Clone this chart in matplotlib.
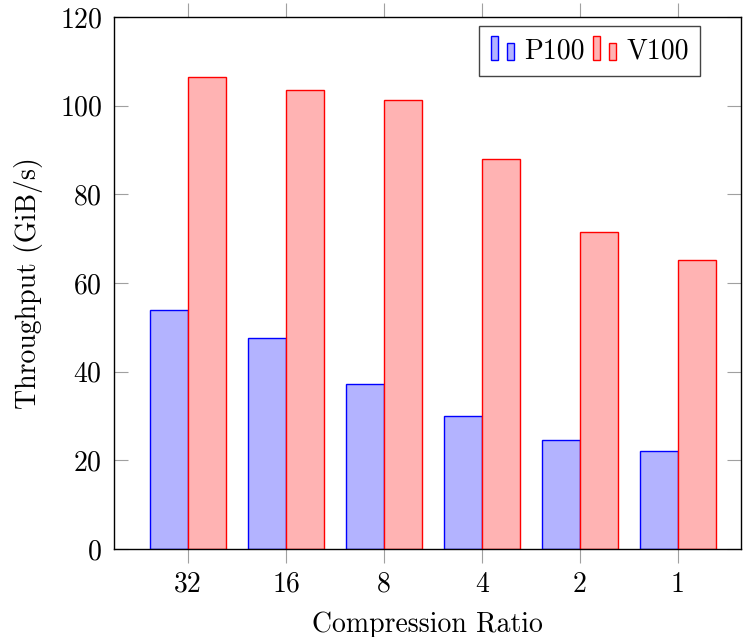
import matplotlib
matplotlib.use("Agg")
import matplotlib.pyplot as plt
from matplotlib.patches import Rectangle
from matplotlib.legend_handler import HandlerBase
import numpy as np

plt.rcParams['font.family'] = ['cmr10', 'DejaVu Serif']
plt.rcParams['axes.formatter.use_mathtext'] = True

ratios = ['32', '16', '8', '4', '2', '1']
p100 = [54.0, 47.7, 37.2, 30.1, 24.6, 22.2]
v100 = [106.4, 103.5, 101.2, 88.0, 71.4, 65.2]

blue_fill, red_fill = '#b3b3ff', '#ffb3b3'


class TwoBars(HandlerBase):
    # pgfplots style ybar legend image: two little bars
    def create_artists(self, legend, orig, xd, yd, w, h, fs, trans):
        p = orig.patches[0]
        fc = p.get_facecolor()
        ec = p.get_edgecolor()
        bw = w * 0.3
        r1 = Rectangle((xd, yd - h * 0.1), bw, h * 1.25, fc=fc, ec=ec, lw=1, transform=trans)
        r2 = Rectangle((xd + w * 0.65, yd - h * 0.1), bw, h * 0.85, fc=fc, ec=ec, lw=1, transform=trans)
        return [r1, r2]


fig = plt.figure(figsize=(7.43, 6.37), dpi=100)
ax = fig.add_axes([0.1534, 0.1381, 0.8439, 0.8352])

x = np.arange(len(ratios))
w = 0.39
b1 = ax.bar(x - w / 2, p100, w, color=blue_fill, edgecolor='blue', linewidth=1, label='P100')
b2 = ax.bar(x + w / 2, v100, w, color=red_fill, edgecolor='red', linewidth=1, label='V100')

ax.set_xlim(-0.755, 5.643)
ax.set_ylim(0, 120)
ax.set_xticks(x)
ax.set_xticklabels(ratios)
ax.set_yticks(range(0, 121, 20))
ax.tick_params(axis='x', direction='out', top=True, length=10, color='#a0a0a0', labelsize=20, pad=6)
ax.tick_params(axis='y', direction='in', right=True, length=10, color='#a0a0a0', labelsize=20, pad=8.5)
for s in ax.spines.values():
    s.set_linewidth(1)
ax.set_xlabel('Compression Ratio', fontsize=20, labelpad=10)
ax.set_ylabel('Throughput (GiB/s)', fontsize=20, labelpad=12)

leg = ax.legend(handles=[b1, b2], handler_map={b1: TwoBars(), b2: TwoBars()},
                loc='upper right', bbox_to_anchor=(0.935, 0.983), ncol=2, fontsize=20,
                frameon=True, fancybox=False, framealpha=1, edgecolor='#444444',
                handlelength=0.9, handletextpad=0.3, columnspacing=0.3, borderpad=0.42,
                borderaxespad=0)
leg.get_frame().set_linewidth(1)

fig.savefig('out.png', dpi=100)
